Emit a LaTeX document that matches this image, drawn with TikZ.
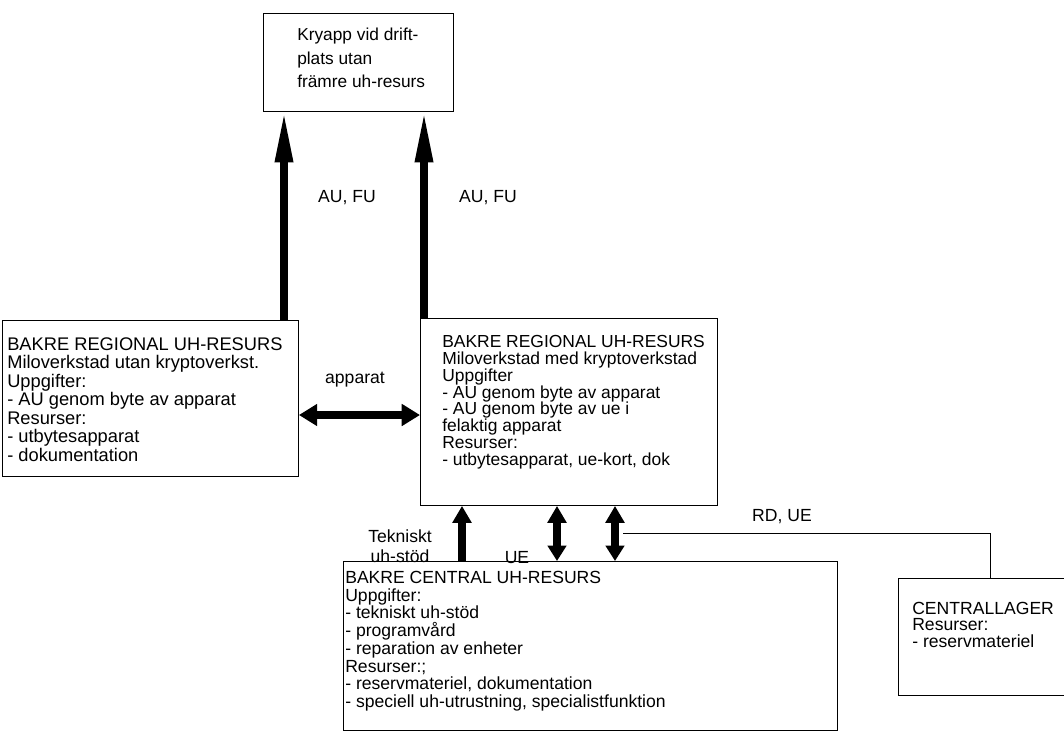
\documentclass[tikz,border=0pt]{standalone}
\usepackage{fontspec}
\setmainfont{Liberation Sans}
\usetikzlibrary{positioning,arrows.meta,calc}

\begin{document}
\begin{tikzpicture}[x=0.025cm, y=-0.025cm,
    ruta/.style={draw, line width=0.6pt, anchor=north west, inner sep=0pt},
    rutext/.style={anchor=north west, inner sep=0pt, align=left, font=\fontsize{12.5}{12.6}\selectfont},
    etikett/.style={inner sep=0pt, font=\fontsize{12.5}{15}\selectfont},
    tunn/.style={line width=0.6pt},
    pil/.style={line width=5pt, -{Triangle[length=36pt,width=12pt]}},
    kortpil/.style={line width=5pt, -{Triangle[length=12pt,width=13pt]}},
    dubbelpil/.style={line width=5pt, {Triangle[length=11pt,width=13pt]}-{Triangle[length=12pt,width=13pt]}},
    sidopil/.style={line width=5.5pt, {Triangle[length=13pt,width=15pt]}-{Triangle[length=13pt,width=15pt]}}]
    \useasboundingbox (0,0) rectangle (1064,736);

    % Rutor
    \node[ruta, minimum width=4.75cm, minimum height=2.45cm] (kry) at (263,13) {};
    \node[ruta, minimum width=7.4cm, minimum height=3.9cm] (lbox) at (2,320) {};
    \node[ruta, minimum width=7.425cm, minimum height=4.675cm] (mbox) at (420,318) {};
    \node[ruta, minimum width=12.35cm, minimum height=4.225cm] (bbox) at (343,561) {};
    \node[ruta, minimum width=4.3cm, minimum height=2.925cm] (clager) at (898,578) {};

    % Texter i rutorna
    \node[rutext, font=\fontsize{12.3}{16.6}\selectfont] (krytxt) at (297,28)
        {Kryapp vid drift-\\plats utan\\främre uh-resurs};
    \node[rutext, font=\fontsize{13}{13.2}\selectfont] (ltxt) at (7,337)
        {BAKRE REGIONAL UH-RESURS\\Miloverkstad utan kryptoverkst.\\Uppgifter:\\- AU genom byte av apparat\\Resurser:\\- utbytesapparat\\- dokumentation};
    \node[rutext, font=\fontsize{12.4}{12}\selectfont] (mtxt) at (442,335)
        {BAKRE REGIONAL UH-RESURS\\Miloverkstad med kryptoverkstad\\Uppgifter\\- AU genom byte av apparat\\- AU genom byte av ue i\\felaktig apparat\\Resurser:\\- utbytesapparat, ue-kort, dok};
    \node[rutext] (btxt) at (345,571)
        {BAKRE CENTRAL UH-RESURS\\Uppgifter:\\- tekniskt uh-stöd\\- programvård\\- reparation av enheter\\Resurser:;\\- reservmateriel, dokumentation\\- speciell uh-utrustning, specialistfunktion};
    \node[rutext, font=\fontsize{12.5}{11.6}\selectfont] (ctxt) at (912,602)
        {CENTRALLAGER\\Resurser:\\- reservmateriel};

    % Etiketter
    \node[etikett] (aufu1) at (347,198) {AU, FU};
    \node[etikett] (aufu2) at (488,198) {AU, FU};
    \node[etikett] (app) at (355,380) {apparat};
    \node[etikett, align=center, font=\fontsize{12.5}{14.6}\selectfont] (tek) at (400,546) {Tekniskt\\uh-stöd};
    \node[etikett] (ue) at (517,558) {UE};
    \node[etikett] (rdue) at (782,517) {RD, UE};

    % Pilar
    \coordinate (a1) at (284,0);
    \coordinate (a2) at (424,0);
    \coordinate (h) at (0,415);
    \coordinate (v1) at (462,0);
    \coordinate (v2) at (557,0);
    \coordinate (v3) at (615,0);
    \draw[pil] (lbox.north -| a1) -- (kry.south -| a1);
    \draw[pil] (mbox.north -| a2) -- (kry.south -| a2);
    \draw[sidopil] (lbox.east |- h) -- (mbox.west |- h);
    \draw[kortpil] (bbox.north -| v1) -- (mbox.south -| v1);
    \draw[dubbelpil] (bbox.north -| v2) -- (mbox.south -| v2);
    \draw[dubbelpil] (bbox.north -| v3) -- (mbox.south -| v3);

    % Linje till centrallager
    \coordinate (rd1) at (623,533);
    \coordinate (rd2) at (990,533);
    \draw[tunn] (rd1) -- (rd2) -- (clager.north -| rd2);
\end{tikzpicture}
\end{document}
